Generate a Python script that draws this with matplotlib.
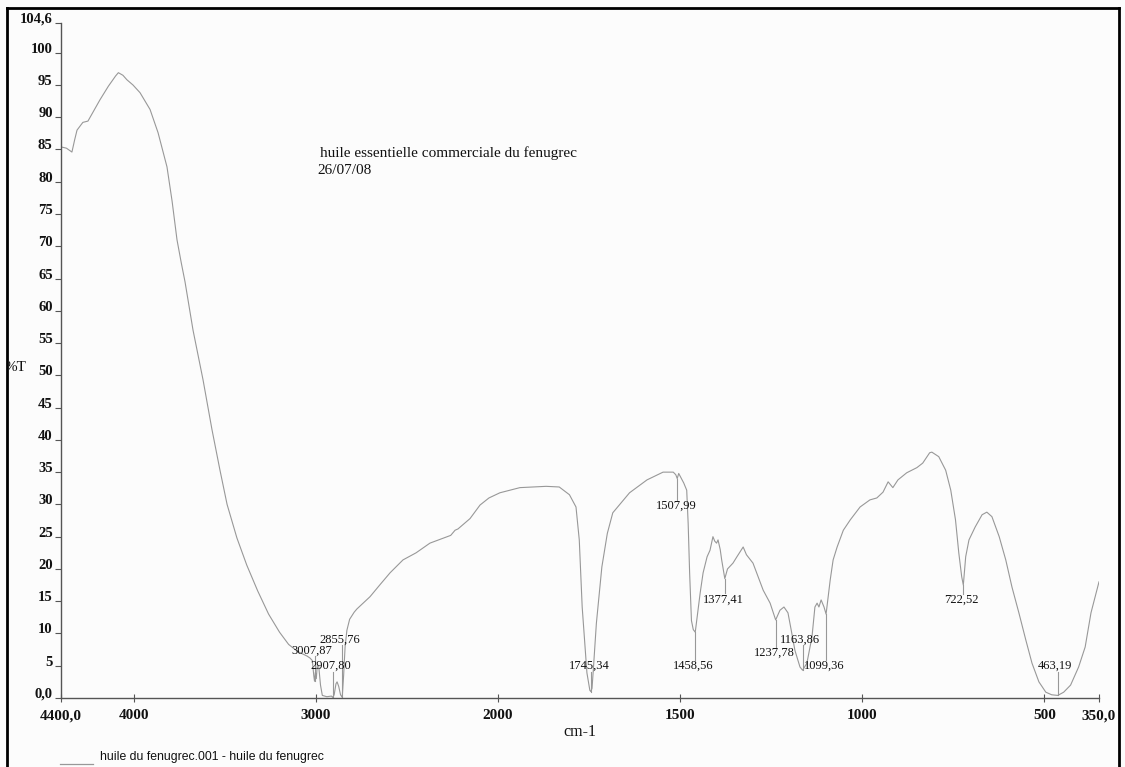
"""
FT-IR transmission spectrum of commercial fenugreek essential oil.

Plotted in the style of the instrument printout: %T against wavenumber,
with the wavenumber axis expanded 2x below 2000 cm-1 and the picked
peaks labelled with their positions.
"""

import matplotlib.pyplot as plt
import numpy as np
from matplotlib.lines import Line2D
from matplotlib.transforms import Bbox, TransformedBbox

# ── Data ─────────────────────────────────────────────────────────────────────

WAVENUMBER = [
    4400, 4370, 4340, 4325, 4312, 4280, 4252, 4220, 4186, 4140, 4100, 4085,
    4060, 4038, 4005, 3966, 3911, 3867, 3818, 3790, 3763, 3740, 3719, 3675,
    3620, 3571, 3527, 3488, 3434, 3380, 3320, 3260, 3200, 3150, 3100, 3049,
    3033, 3020, 3012, 3007.87, 3003, 2998, 2993, 2985, 2975, 2965, 2940,
    2915, 2907.8, 2900, 2890, 2884, 2875, 2865, 2855.76, 2848, 2840, 2830,
    2815, 2790, 2775, 2703, 2650, 2593, 2522, 2450, 2374, 2260, 2236, 2220,
    2154, 2099, 2050, 1995, 1940, 1868, 1832, 1804, 1786, 1777, 1769, 1756,
    1748, 1745.34, 1742, 1739, 1730, 1715, 1700, 1685, 1639, 1591, 1547,
    1519, 1512, 1507.99, 1504, 1490, 1482, 1478, 1474, 1469, 1464, 1458.56,
    1452, 1445, 1437, 1426, 1418, 1410, 1405, 1400, 1396, 1390, 1386,
    1377.41, 1370, 1355, 1344, 1327, 1318, 1300, 1286, 1272, 1253, 1237.78,
    1226, 1215, 1204, 1195, 1185, 1171, 1163.86, 1152, 1138, 1130, 1124,
    1119, 1113, 1105, 1099.36, 1088, 1080, 1069, 1052, 1033, 1006, 979, 960,
    943, 929, 916, 902, 878, 850, 834, 815, 809, 790, 771, 757, 744, 735,
    727, 722.52, 716, 707, 690, 671, 658, 644, 624, 606, 589, 570, 551, 534,
    515, 496, 480, 463.19, 447, 428, 406, 388, 372, 350,
]

TRANSMITTANCE = [
    85.4, 85.2, 84.6, 86.5, 88.0, 89.2, 89.4, 91.0, 92.7, 94.8, 96.4, 96.9,
    96.5, 95.8, 95.0, 93.8, 91.2, 87.6, 82.3, 77.0, 71.0, 67.5, 64.5, 57.0,
    49.3, 41.6, 35.3, 30.0, 24.8, 20.6, 16.6, 13.0, 10.2, 8.3, 7.2, 6.5,
    6.2, 5.8, 3.5, 2.6, 4.0, 3.0, 5.0, 5.0, 2.0, 0.4, 0.2,
    0.3, 0.1, 0.5, 2.2, 2.5, 1.8, 0.5, 0.1, 3.5, 7.9, 10.5,
    12.2, 13.3, 13.8, 15.7, 17.5, 19.4, 21.4, 22.5, 24.0, 25.2, 26.0, 26.2,
    27.8, 29.9, 31.0, 31.8, 32.6, 32.8, 32.7, 31.5, 29.6, 24.5, 14.1, 3.9,
    1.2, 1.0, 1.5, 3.9, 11.6, 20.3, 25.5, 28.7, 31.8, 33.8, 35.0,
    35.0, 34.6, 34.0, 34.8, 33.3, 32.2, 27.0, 19.4, 12.0, 10.6, 10.2,
    13.2, 16.3, 19.4, 21.9, 22.9, 25.0, 24.3, 24.0, 24.5, 23.0, 21.4,
    18.5, 20.0, 20.9, 21.9, 23.4, 22.2, 20.9, 18.8, 16.7, 14.7, 12.1,
    13.6, 14.1, 13.2, 10.5, 7.4, 4.8, 4.3, 5.4, 9.5, 14.1, 14.7,
    14.1, 15.2, 14.1, 13.0, 18.3, 21.4, 23.4, 26.0, 27.6, 29.6, 30.7, 31.0,
    31.9, 33.5, 32.6, 33.8, 34.9, 35.7, 36.4, 38.0, 38.1, 37.4, 35.3, 32.2,
    27.6, 22.5, 18.8, 17.5, 21.9, 24.5, 26.5, 28.4, 28.8, 28.1, 25.0, 21.4,
    17.2, 13.2, 9.0, 5.4, 2.5, 0.9, 0.5, 0.4, 0.9, 2.0, 4.8, 7.9, 13.2, 18.0,
]

PEAKS = [3007.87, 2907.80, 2855.76, 1745.34, 1507.99, 1458.56, 1377.41,
         1237.78, 1163.86, 1099.36, 722.52, 463.19]

X_TICKS = [4400, 4000, 3000, 2000, 1500, 1000, 500, 350]
X_TICK_LABELS = ["4400,0", "4000", "3000", "2000", "1500", "1000", "500", "350,0"]
Y_TICKS = [0, 5, 10, 15, 20, 25, 30, 35, 40, 45, 50, 55, 60, 65, 70, 75, 80,
           85, 90, 95, 100, 104.6]
Y_TICK_LABELS = ["0,0"] + [str(v) for v in Y_TICKS[1:-1]] + ["104,6"]

# where each peak label sits (wavenumber, %T of text centre)
LABEL_POS = [(3022, 7.4), (2920, 5.0), (2871, 9.1), (1750, 5.0), (1511, 29.8),
             (1465, 5.0), (1382, 15.3), (1242, 7.0), (1171, 9.1), (1105, 5.0),
             (727, 15.2), (470, 5.0)]

# ── Style ────────────────────────────────────────────────────────────────────

W, H = 1125, 767
SERIF = "Liberation Serif"
SANS = "Liberation Sans"
TRACE = "#989898"
AXIS = "#555555"
INK = "#111111"

plt.rcParams.update({"font.family": SERIF, "font.size": 10})


def fx(px):
    return px / W


def fy(py):
    return 1 - py / H


def forward(x):
    x = np.asarray(x, dtype=float)
    return np.where(x > 2000, 2000 + (x - 2000) / 2, x)


def inverse(x):
    x = np.asarray(x, dtype=float)
    return np.where(x > 2000, 2000 + 2 * (x - 2000), x)


fig = plt.figure(figsize=(W / 100, H / 100), dpi=100)
fig.patch.set_facecolor("#fcfcfc")
ax = fig.add_axes([fx(61), fy(698), fx(1099 - 61), (698 - 23) / H])
ax.set_facecolor("none")

ax.set_xscale("function", functions=(forward, inverse))
ax.plot(WAVENUMBER, TRANSMITTANCE, color=TRACE, linewidth=0.8)
ax.set_xlim(4400, 350)
ax.set_ylim(0, 104.6)

for side in ("top", "right"):
    ax.spines[side].set_visible(False)
for side in ("left", "bottom"):
    ax.spines[side].set_color(AXIS)
    ax.spines[side].set_linewidth(1.0)

ax.set_xticks(X_TICKS)
ax.set_xticklabels(X_TICK_LABELS, fontweight="bold")
ax.xaxis.set_minor_locator(plt.NullLocator())
ax.set_yticks(Y_TICKS)
ax.set_yticklabels(Y_TICK_LABELS, fontweight="bold")
ax.tick_params(axis="x", direction="inout", length=6, width=0.8, color=AXIS,
               labelsize=11, labelcolor=INK, pad=5)
ax.tick_params(axis="y", direction="out", length=4, width=0.8, color=AXIS,
               labelsize=10.5, labelcolor=INK, pad=2)
for lab in ax.get_yticklabels():
    lab.set_verticalalignment("baseline")

# peak picks: short connector from the trace to its label
wn = np.array(WAVENUMBER)
tr = np.array(TRANSMITTANCE)
for peak, (lx, ly) in zip(PEAKS, LABEL_POS):
    t = np.interp(peak, wn[::-1], tr[::-1])
    end = ly + 0.9 if ly < t else ly - 0.9
    ax.plot([peak, peak], [t, end], color=TRACE, linewidth=0.8)
    ax.text(lx, ly, f"{peak:.2f}".replace(".", ","), fontsize=9, color=INK,
            ha="center", va="center")

# titles and axis captions
fig.text(fx(320), fy(153), "huile essentielle commerciale du fenugrec",
         fontsize=11, color=INK, va="center", ha="left")
fig.text(fx(317), fy(171), "26/07/08", fontsize=11, color=INK,
         va="center", ha="left")
fig.text(fx(580), fy(732), "cm-1", fontsize=11.5, color=INK,
         va="center", ha="center")
pct = fig.text(fx(26), fy(368), "%T", fontsize=11, color=INK,
               va="center", ha="right")
pct.set_clip_box(TransformedBbox(Bbox([[fx(9), 0], [1, 1]]), fig.transFigure))

# legend strip at the foot of the page
fig.text(fx(100), fy(757), "huile du fenugrec.001 - huile du fenugrec",
         family=SANS, fontsize=8.8, color=INK, va="center", ha="left")
fig.add_artist(Line2D([fx(60), fx(93)], [fy(764), fy(764)],
                      color=TRACE, linewidth=0.9))

# page frame
frame = dict(color="black", linewidth=2, solid_capstyle="projecting")
fig.add_artist(Line2D([fx(7), fx(7)], [fy(8), 0], **frame))
fig.add_artist(Line2D([fx(7), fx(1119)], [fy(8), fy(8)], **frame))
fig.add_artist(Line2D([fx(1119), fx(1119)], [fy(8), 0], **frame))

fig.savefig("out.png", dpi=100, facecolor=fig.get_facecolor())
